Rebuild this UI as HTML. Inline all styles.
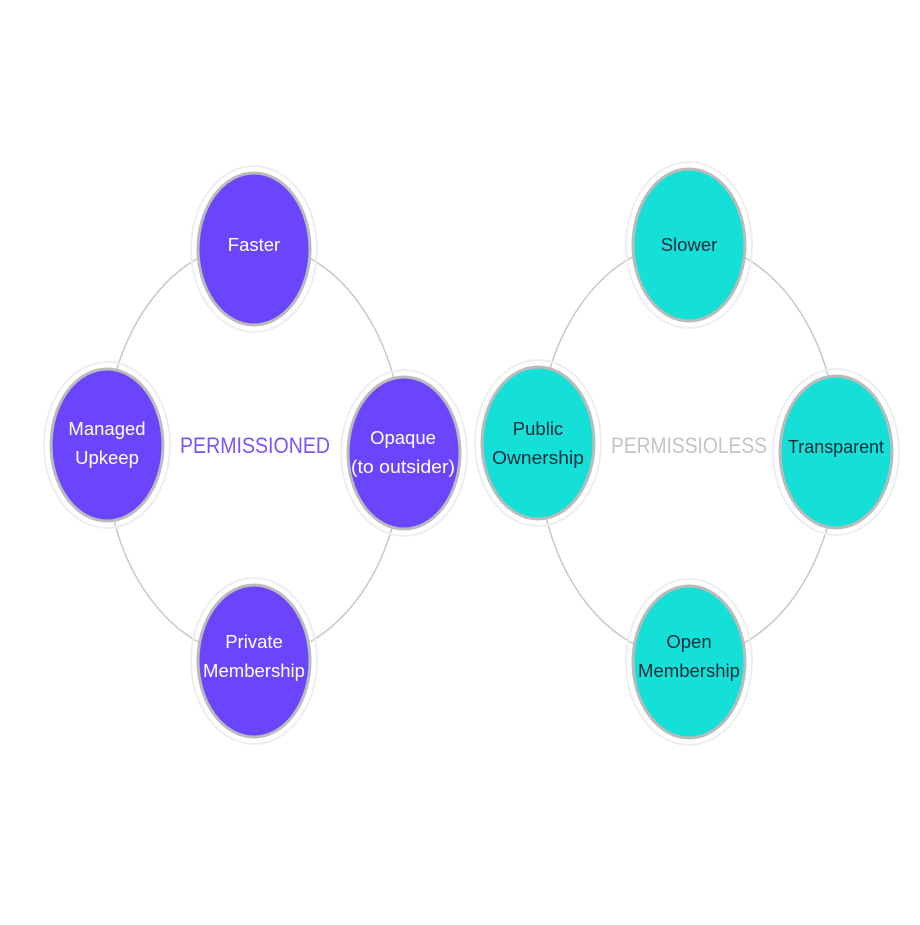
<!DOCTYPE html>
<html><head><meta charset="utf-8"><style>
html,body{margin:0;padding:0;background:#fff;}
text{font-family:"Liberation Sans",sans-serif;}
</style></head><body>
<svg width="920" height="920" viewBox="0 0 920 920" xmlns="http://www.w3.org/2000/svg">
<rect width="920" height="920" fill="#fff"/>
<ellipse cx="254" cy="450" rx="149" ry="207" fill="none" stroke="#c8c8c8" stroke-width="1.5"/>
<ellipse cx="688" cy="450" rx="150" ry="208" fill="none" stroke="#c8c8c8" stroke-width="1.5"/>
<g>
<ellipse cx="254" cy="249" rx="63" ry="83" fill="none" stroke="#eee" stroke-width="2"/>
<ellipse cx="254" cy="249" rx="56" ry="76" fill="#6a45fc" stroke="#bbb" stroke-width="3"/>
<ellipse cx="107" cy="445" rx="63" ry="83" fill="none" stroke="#eee" stroke-width="2"/>
<ellipse cx="107" cy="445" rx="56" ry="76" fill="#6a45fc" stroke="#bbb" stroke-width="3"/>
<ellipse cx="404" cy="453" rx="63" ry="83" fill="none" stroke="#eee" stroke-width="2"/>
<ellipse cx="404" cy="453" rx="56" ry="76" fill="#6a45fc" stroke="#bbb" stroke-width="3"/>
<ellipse cx="254" cy="661" rx="63" ry="83" fill="none" stroke="#eee" stroke-width="2"/>
<ellipse cx="254" cy="661" rx="56" ry="76" fill="#6a45fc" stroke="#bbb" stroke-width="3"/>
</g>
<g>
<ellipse cx="689" cy="245" rx="63" ry="83" fill="none" stroke="#eee" stroke-width="2"/>
<ellipse cx="689" cy="245" rx="56" ry="76" fill="#15e0d8" stroke="#bbb" stroke-width="3"/>
<ellipse cx="538" cy="443" rx="63" ry="83" fill="none" stroke="#eee" stroke-width="2"/>
<ellipse cx="538" cy="443" rx="56" ry="76" fill="#15e0d8" stroke="#bbb" stroke-width="3"/>
<ellipse cx="836" cy="452" rx="63" ry="83" fill="none" stroke="#eee" stroke-width="2"/>
<ellipse cx="836" cy="452" rx="56" ry="76" fill="#15e0d8" stroke="#bbb" stroke-width="3"/>
<ellipse cx="689" cy="662" rx="63" ry="83" fill="none" stroke="#eee" stroke-width="2"/>
<ellipse cx="689" cy="662" rx="56" ry="76" fill="#15e0d8" stroke="#bbb" stroke-width="3"/>
</g>
<g font-size="18.5" text-anchor="middle" fill="#fff">
<text x="254" y="251">Faster</text>
<text x="107" y="435">Managed</text>
<text x="107" y="464">Upkeep</text>
<text x="403" y="444">Opaque</text>
<text x="403" y="473" textLength="104" lengthAdjust="spacingAndGlyphs">(to outsider)</text>
<text x="254" y="648">Private</text>
<text x="254" y="677" textLength="102" lengthAdjust="spacingAndGlyphs">Membership</text>
</g>
<g font-size="18.5" text-anchor="middle" fill="#1c2b3a">
<text x="689" y="251">Slower</text>
<text x="538" y="435">Public</text>
<text x="538" y="464" textLength="92" lengthAdjust="spacingAndGlyphs">Ownership</text>
<text x="836" y="453" textLength="96" lengthAdjust="spacingAndGlyphs">Transparent</text>
<text x="689" y="648">Open</text>
<text x="689" y="677" textLength="102" lengthAdjust="spacingAndGlyphs">Membership</text>
</g>
<text x="255" y="453" font-size="22" text-anchor="middle" fill="#7a55f5" textLength="150" lengthAdjust="spacingAndGlyphs">PERMISSIONED</text>
<text x="689" y="453" font-size="22" text-anchor="middle" fill="#c4c4c4" textLength="156" lengthAdjust="spacingAndGlyphs">PERMISSIOLESS</text>
</svg>
</body></html>
